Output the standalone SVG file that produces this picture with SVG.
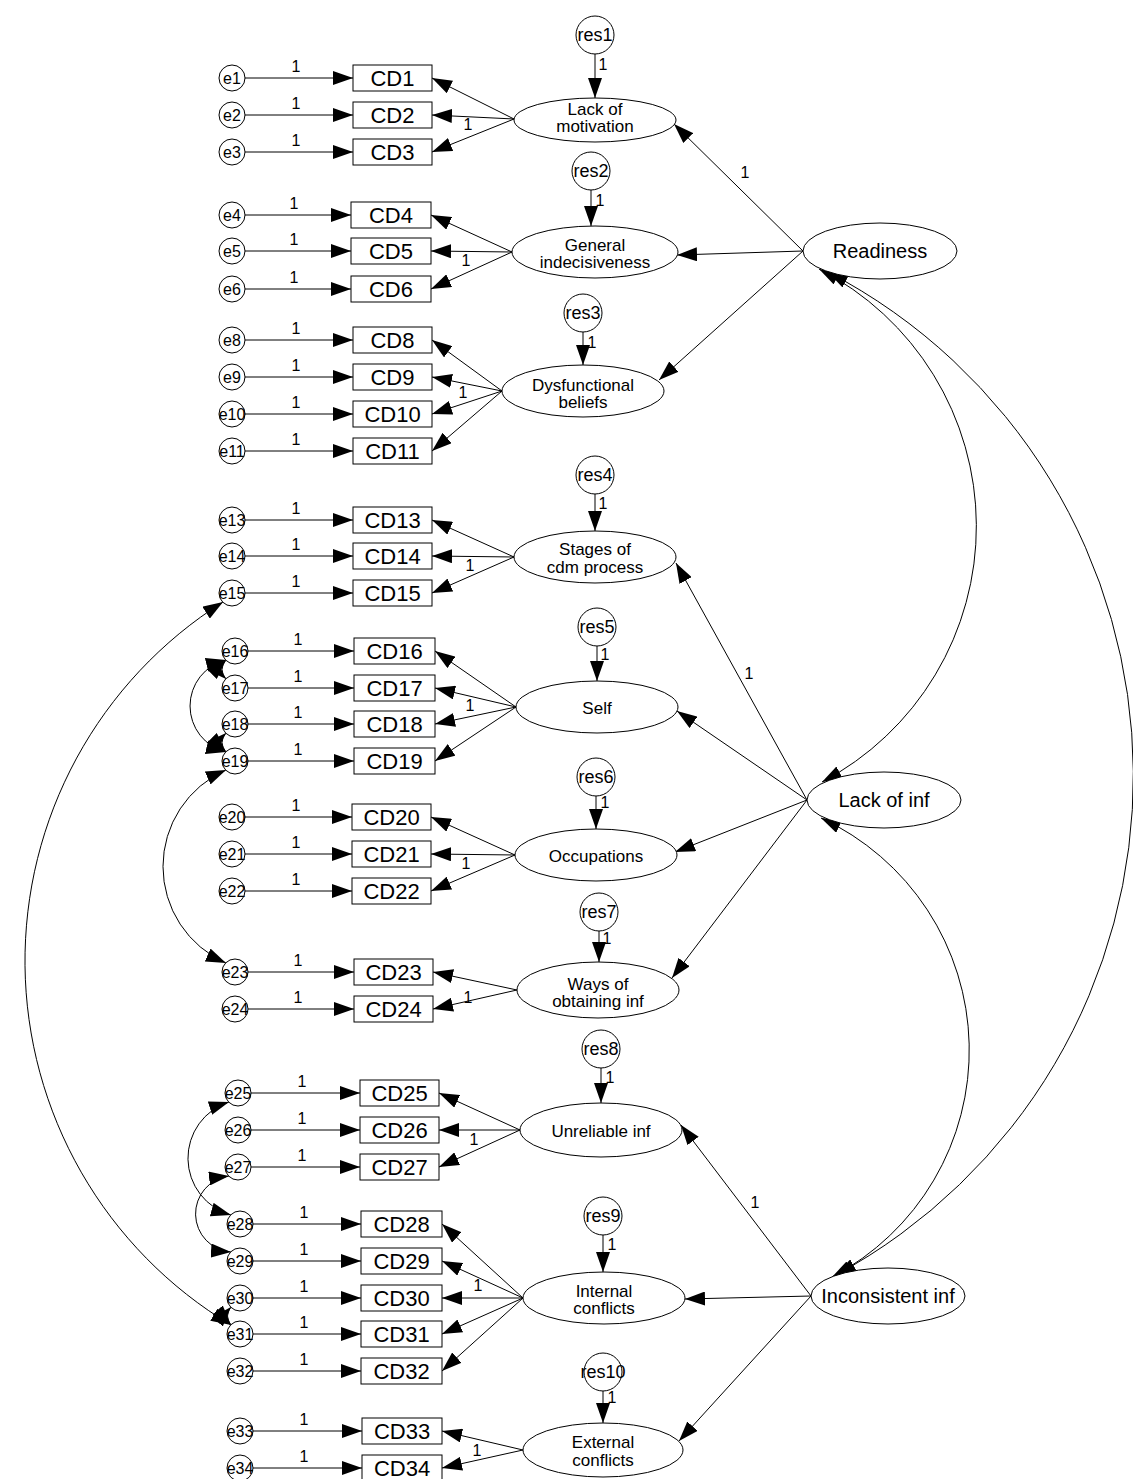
<svg xmlns="http://www.w3.org/2000/svg" width="1133" height="1479" viewBox="0 0 1133 1479">
<style>
text{font-family:"Liberation Sans",Arial,sans-serif;fill:#000}
.cd{font-size:22px;text-anchor:middle}
.el{font-size:16px;text-anchor:middle}
.rl{font-size:18px;text-anchor:middle}
.lt{font-size:17px;text-anchor:middle}
.bt{font-size:20px;text-anchor:middle}
.one{font-size:16px;text-anchor:middle}
rect,circle,ellipse{fill:#fff;stroke:#000;stroke-width:1}
#connectors path,#connectors line{stroke:#000;stroke-width:1;fill:none}
.a{marker-end:url(#ah)}
.b{marker-start:url(#ah);marker-end:url(#ah)}
</style>
<defs>
<marker id="ah" viewBox="0 0 20 14" refX="20" refY="7" markerWidth="20" markerHeight="14" markerUnits="userSpaceOnUse" orient="auto-start-reverse"><path d="M0,0 L20,7 L0,14 z" fill="#000"/></marker>
</defs>
<rect x="0" y="0" width="1133" height="1479" style="fill:#fff;stroke:none"/>
<g id="connectors">
<line class="a" x1="245" y1="78" x2="353" y2="78"/>
<line class="a" x1="245" y1="115" x2="353" y2="115"/>
<line class="a" x1="245" y1="152" x2="353" y2="152"/>
<line class="a" x1="245" y1="215" x2="351" y2="215"/>
<line class="a" x1="245" y1="251" x2="351" y2="251"/>
<line class="a" x1="245" y1="289" x2="351" y2="289"/>
<line class="a" x1="245" y1="340" x2="353" y2="340"/>
<line class="a" x1="245" y1="377" x2="353" y2="377"/>
<line class="a" x1="245" y1="414" x2="353" y2="414"/>
<line class="a" x1="245" y1="451" x2="353" y2="451"/>
<line class="a" x1="245" y1="520" x2="353" y2="520"/>
<line class="a" x1="245" y1="556" x2="353" y2="556"/>
<line class="a" x1="245" y1="593" x2="353" y2="593"/>
<line class="a" x1="248" y1="651" x2="354" y2="651"/>
<line class="a" x1="248" y1="688" x2="354" y2="688"/>
<line class="a" x1="248" y1="724" x2="354" y2="724"/>
<line class="a" x1="248" y1="761" x2="354" y2="761"/>
<line class="a" x1="245" y1="817" x2="352" y2="817"/>
<line class="a" x1="245" y1="854" x2="352" y2="854"/>
<line class="a" x1="245" y1="891" x2="352" y2="891"/>
<line class="a" x1="248" y1="972" x2="354" y2="972"/>
<line class="a" x1="248" y1="1009" x2="354" y2="1009"/>
<line class="a" x1="251" y1="1093" x2="360" y2="1093"/>
<line class="a" x1="251" y1="1130" x2="360" y2="1130"/>
<line class="a" x1="251" y1="1167" x2="360" y2="1167"/>
<line class="a" x1="253" y1="1224" x2="361" y2="1224"/>
<line class="a" x1="253" y1="1261" x2="361" y2="1261"/>
<line class="a" x1="253" y1="1298" x2="361" y2="1298"/>
<line class="a" x1="253" y1="1334" x2="361" y2="1334"/>
<line class="a" x1="253" y1="1371" x2="361" y2="1371"/>
<line class="a" x1="253" y1="1431" x2="362" y2="1431"/>
<line class="a" x1="253" y1="1468" x2="362" y2="1468"/>
<line class="a" x1="514" y1="119" x2="432" y2="78"/>
<line class="a" x1="514" y1="119" x2="432" y2="115"/>
<line class="a" x1="514" y1="119" x2="432" y2="152"/>
<line class="a" x1="512" y1="252" x2="431" y2="215"/>
<line class="a" x1="512" y1="252" x2="431" y2="251"/>
<line class="a" x1="512" y1="252" x2="431" y2="289"/>
<line class="a" x1="502" y1="391" x2="432" y2="340"/>
<line class="a" x1="502" y1="391" x2="432" y2="377"/>
<line class="a" x1="502" y1="391" x2="432" y2="414"/>
<line class="a" x1="502" y1="391" x2="432" y2="451"/>
<line class="a" x1="514" y1="557" x2="432" y2="520"/>
<line class="a" x1="514" y1="557" x2="432" y2="556"/>
<line class="a" x1="514" y1="557" x2="432" y2="593"/>
<line class="a" x1="516" y1="707" x2="435" y2="651"/>
<line class="a" x1="516" y1="707" x2="435" y2="688"/>
<line class="a" x1="516" y1="707" x2="435" y2="724"/>
<line class="a" x1="516" y1="707" x2="435" y2="761"/>
<line class="a" x1="515" y1="855" x2="431" y2="817"/>
<line class="a" x1="515" y1="855" x2="431" y2="854"/>
<line class="a" x1="515" y1="855" x2="431" y2="891"/>
<line class="a" x1="517" y1="990" x2="433" y2="972"/>
<line class="a" x1="517" y1="990" x2="433" y2="1009"/>
<line class="a" x1="520" y1="1130" x2="439" y2="1093"/>
<line class="a" x1="520" y1="1130" x2="439" y2="1130"/>
<line class="a" x1="520" y1="1130" x2="439" y2="1167"/>
<line class="a" x1="523" y1="1298" x2="442" y2="1224"/>
<line class="a" x1="523" y1="1298" x2="442" y2="1261"/>
<line class="a" x1="523" y1="1298" x2="442" y2="1298"/>
<line class="a" x1="523" y1="1298" x2="442" y2="1334"/>
<line class="a" x1="523" y1="1298" x2="442" y2="1371"/>
<line class="a" x1="523" y1="1450" x2="442" y2="1431"/>
<line class="a" x1="523" y1="1450" x2="442" y2="1468"/>
<line class="a" x1="595" y1="54" x2="595" y2="98"/>
<line class="a" x1="591" y1="190" x2="591" y2="226"/>
<line class="a" x1="583" y1="332" x2="583" y2="365"/>
<line class="a" x1="595" y1="494" x2="595" y2="531"/>
<line class="a" x1="597" y1="646" x2="597" y2="681"/>
<line class="a" x1="596" y1="796" x2="596" y2="829"/>
<line class="a" x1="599" y1="931" x2="599" y2="962"/>
<line class="a" x1="601" y1="1068" x2="601" y2="1103"/>
<line class="a" x1="603" y1="1235" x2="603" y2="1272"/>
<line class="a" x1="603" y1="1391" x2="603" y2="1423"/>
<line class="a" x1="803" y1="251" x2="674" y2="124"/>
<line class="a" x1="803" y1="251" x2="677" y2="255"/>
<line class="a" x1="803" y1="251" x2="659" y2="380"/>
<line class="a" x1="807" y1="800" x2="676" y2="563"/>
<line class="a" x1="807" y1="800" x2="677" y2="711"/>
<line class="a" x1="807" y1="800" x2="675" y2="852"/>
<line class="a" x1="807" y1="800" x2="672" y2="978"/>
<line class="a" x1="811" y1="1296" x2="681" y2="1125"/>
<line class="a" x1="811" y1="1296" x2="685" y2="1299"/>
<line class="a" x1="811" y1="1296" x2="679" y2="1441"/>
<path class="b" d="M819,269 A289,289 0 0,1 822,782"/>
<path class="b" d="M828,272 A568,568 0 0,1 836,1275"/>
<path class="b" d="M821,818 A256,256 0 0,1 832,1277"/>
<path class="b" d="M223,602 A424.5,424.5 0 0,0 231,1325"/>
<path class="b" d="M226,770 A105.4,105.4 0 0,0 226,963"/>
<path class="b" d="M226,660 A47.4,47.4 0 0,0 226,752"/>
<path class="b" d="M226,660 A13.4,13.4 0 0,0 226,679"/>
<path class="b" d="M226,733 A13.4,13.4 0 0,0 226,752"/>
<path class="b" d="M231,1307 A13.4,13.4 0 0,0 231,1325"/>
<path class="b" d="M229,1102 A59,59 0 0,0 231,1215"/>
<path class="b" d="M229,1176 A38.2,38.2 0 0,0 231,1252"/>
</g>
<g id="labels">
<text class="one" x="296" y="72">1</text>
<text class="one" x="296" y="109">1</text>
<text class="one" x="296" y="146">1</text>
<text class="one" x="294" y="209">1</text>
<text class="one" x="294" y="245">1</text>
<text class="one" x="294" y="283">1</text>
<text class="one" x="296" y="334">1</text>
<text class="one" x="296" y="371">1</text>
<text class="one" x="296" y="408">1</text>
<text class="one" x="296" y="445">1</text>
<text class="one" x="296" y="514">1</text>
<text class="one" x="296" y="550">1</text>
<text class="one" x="296" y="587">1</text>
<text class="one" x="298" y="645">1</text>
<text class="one" x="298" y="682">1</text>
<text class="one" x="298" y="718">1</text>
<text class="one" x="298" y="755">1</text>
<text class="one" x="296" y="811">1</text>
<text class="one" x="296" y="848">1</text>
<text class="one" x="296" y="885">1</text>
<text class="one" x="298" y="966">1</text>
<text class="one" x="298" y="1003">1</text>
<text class="one" x="302" y="1087">1</text>
<text class="one" x="302" y="1124">1</text>
<text class="one" x="302" y="1161">1</text>
<text class="one" x="304" y="1218">1</text>
<text class="one" x="304" y="1255">1</text>
<text class="one" x="304" y="1292">1</text>
<text class="one" x="304" y="1328">1</text>
<text class="one" x="304" y="1365">1</text>
<text class="one" x="304" y="1425">1</text>
<text class="one" x="304" y="1462">1</text>
<text class="one" x="468" y="130">1</text>
<text class="one" x="466" y="266">1</text>
<text class="one" x="463" y="398">1</text>
<text class="one" x="470" y="571">1</text>
<text class="one" x="470" y="711">1</text>
<text class="one" x="466" y="869">1</text>
<text class="one" x="468" y="1003">1</text>
<text class="one" x="474" y="1145">1</text>
<text class="one" x="478" y="1291">1</text>
<text class="one" x="477" y="1456">1</text>
<text class="one" x="603" y="70">1</text>
<text class="one" x="600" y="206">1</text>
<text class="one" x="592" y="348">1</text>
<text class="one" x="603" y="509">1</text>
<text class="one" x="605" y="660">1</text>
<text class="one" x="605" y="808">1</text>
<text class="one" x="607" y="944">1</text>
<text class="one" x="610" y="1083">1</text>
<text class="one" x="612" y="1250">1</text>
<text class="one" x="612" y="1403">1</text>
<text class="one" x="745" y="178">1</text>
<text class="one" x="749" y="679">1</text>
<text class="one" x="755" y="1208">1</text>
</g>
<g id="e1"><circle cx="232" cy="78" r="13"/><text class="el" x="232" y="84">e1</text></g>
<g id="e2"><circle cx="232" cy="115" r="13"/><text class="el" x="232" y="121">e2</text></g>
<g id="e3"><circle cx="232" cy="152" r="13"/><text class="el" x="232" y="158">e3</text></g>
<g id="e4"><circle cx="232" cy="215" r="13"/><text class="el" x="232" y="221">e4</text></g>
<g id="e5"><circle cx="232" cy="251" r="13"/><text class="el" x="232" y="257">e5</text></g>
<g id="e6"><circle cx="232" cy="289" r="13"/><text class="el" x="232" y="295">e6</text></g>
<g id="e8"><circle cx="232" cy="340" r="13"/><text class="el" x="232" y="346">e8</text></g>
<g id="e9"><circle cx="232" cy="377" r="13"/><text class="el" x="232" y="383">e9</text></g>
<g id="e10"><circle cx="232" cy="414" r="13"/><text class="el" x="232" y="420">e10</text></g>
<g id="e11"><circle cx="232" cy="451" r="13"/><text class="el" x="232" y="457">e11</text></g>
<g id="e13"><circle cx="232" cy="520" r="13"/><text class="el" x="232" y="526">e13</text></g>
<g id="e14"><circle cx="232" cy="556" r="13"/><text class="el" x="232" y="562">e14</text></g>
<g id="e15"><circle cx="232" cy="593" r="13"/><text class="el" x="232" y="599">e15</text></g>
<g id="e16"><circle cx="235" cy="651" r="13"/><text class="el" x="235" y="657">e16</text></g>
<g id="e17"><circle cx="235" cy="688" r="13"/><text class="el" x="235" y="694">e17</text></g>
<g id="e18"><circle cx="235" cy="724" r="13"/><text class="el" x="235" y="730">e18</text></g>
<g id="e19"><circle cx="235" cy="761" r="13"/><text class="el" x="235" y="767">e19</text></g>
<g id="e20"><circle cx="232" cy="817" r="13"/><text class="el" x="232" y="823">e20</text></g>
<g id="e21"><circle cx="232" cy="854" r="13"/><text class="el" x="232" y="860">e21</text></g>
<g id="e22"><circle cx="232" cy="891" r="13"/><text class="el" x="232" y="897">e22</text></g>
<g id="e23"><circle cx="235" cy="972" r="13"/><text class="el" x="235" y="978">e23</text></g>
<g id="e24"><circle cx="235" cy="1009" r="13"/><text class="el" x="235" y="1015">e24</text></g>
<g id="e25"><circle cx="238" cy="1093" r="13"/><text class="el" x="238" y="1099">e25</text></g>
<g id="e26"><circle cx="238" cy="1130" r="13"/><text class="el" x="238" y="1136">e26</text></g>
<g id="e27"><circle cx="238" cy="1167" r="13"/><text class="el" x="238" y="1173">e27</text></g>
<g id="e28"><circle cx="240" cy="1224" r="13"/><text class="el" x="240" y="1230">e28</text></g>
<g id="e29"><circle cx="240" cy="1261" r="13"/><text class="el" x="240" y="1267">e29</text></g>
<g id="e30"><circle cx="240" cy="1298" r="13"/><text class="el" x="240" y="1304">e30</text></g>
<g id="e31"><circle cx="240" cy="1334" r="13"/><text class="el" x="240" y="1340">e31</text></g>
<g id="e32"><circle cx="240" cy="1371" r="13"/><text class="el" x="240" y="1377">e32</text></g>
<g id="e33"><circle cx="240" cy="1431" r="13"/><text class="el" x="240" y="1437">e33</text></g>
<g id="e34"><circle cx="240" cy="1468" r="13"/><text class="el" x="240" y="1474">e34</text></g>
<g id="CD1"><rect x="353" y="65" width="79" height="26"/><text class="cd" x="392.5" y="86">CD1</text></g>
<g id="CD2"><rect x="353" y="102" width="79" height="26"/><text class="cd" x="392.5" y="123">CD2</text></g>
<g id="CD3"><rect x="353" y="139" width="79" height="26"/><text class="cd" x="392.5" y="160">CD3</text></g>
<g id="CD4"><rect x="351" y="202" width="80" height="26"/><text class="cd" x="391" y="223">CD4</text></g>
<g id="CD5"><rect x="351" y="238" width="80" height="26"/><text class="cd" x="391" y="259">CD5</text></g>
<g id="CD6"><rect x="351" y="276" width="80" height="26"/><text class="cd" x="391" y="297">CD6</text></g>
<g id="CD8"><rect x="353" y="327" width="79" height="26"/><text class="cd" x="392.5" y="348">CD8</text></g>
<g id="CD9"><rect x="353" y="364" width="79" height="26"/><text class="cd" x="392.5" y="385">CD9</text></g>
<g id="CD10"><rect x="353" y="401" width="79" height="26"/><text class="cd" x="392.5" y="422">CD10</text></g>
<g id="CD11"><rect x="353" y="438" width="79" height="26"/><text class="cd" x="392.5" y="459">CD11</text></g>
<g id="CD13"><rect x="353" y="507" width="79" height="26"/><text class="cd" x="392.5" y="528">CD13</text></g>
<g id="CD14"><rect x="353" y="543" width="79" height="26"/><text class="cd" x="392.5" y="564">CD14</text></g>
<g id="CD15"><rect x="353" y="580" width="79" height="26"/><text class="cd" x="392.5" y="601">CD15</text></g>
<g id="CD16"><rect x="354" y="638" width="81" height="26"/><text class="cd" x="394.5" y="659">CD16</text></g>
<g id="CD17"><rect x="354" y="675" width="81" height="26"/><text class="cd" x="394.5" y="696">CD17</text></g>
<g id="CD18"><rect x="354" y="711" width="81" height="26"/><text class="cd" x="394.5" y="732">CD18</text></g>
<g id="CD19"><rect x="354" y="748" width="81" height="26"/><text class="cd" x="394.5" y="769">CD19</text></g>
<g id="CD20"><rect x="352" y="804" width="79" height="26"/><text class="cd" x="391.5" y="825">CD20</text></g>
<g id="CD21"><rect x="352" y="841" width="79" height="26"/><text class="cd" x="391.5" y="862">CD21</text></g>
<g id="CD22"><rect x="352" y="878" width="79" height="26"/><text class="cd" x="391.5" y="899">CD22</text></g>
<g id="CD23"><rect x="354" y="959" width="79" height="26"/><text class="cd" x="393.5" y="980">CD23</text></g>
<g id="CD24"><rect x="354" y="996" width="79" height="26"/><text class="cd" x="393.5" y="1017">CD24</text></g>
<g id="CD25"><rect x="360" y="1080" width="79" height="26"/><text class="cd" x="399.5" y="1101">CD25</text></g>
<g id="CD26"><rect x="360" y="1117" width="79" height="26"/><text class="cd" x="399.5" y="1138">CD26</text></g>
<g id="CD27"><rect x="360" y="1154" width="79" height="26"/><text class="cd" x="399.5" y="1175">CD27</text></g>
<g id="CD28"><rect x="361" y="1211" width="81" height="26"/><text class="cd" x="401.5" y="1232">CD28</text></g>
<g id="CD29"><rect x="361" y="1248" width="81" height="26"/><text class="cd" x="401.5" y="1269">CD29</text></g>
<g id="CD30"><rect x="361" y="1285" width="81" height="26"/><text class="cd" x="401.5" y="1306">CD30</text></g>
<g id="CD31"><rect x="361" y="1321" width="81" height="26"/><text class="cd" x="401.5" y="1342">CD31</text></g>
<g id="CD32"><rect x="361" y="1358" width="81" height="26"/><text class="cd" x="401.5" y="1379">CD32</text></g>
<g id="CD33"><rect x="362" y="1418" width="80" height="26"/><text class="cd" x="402" y="1439">CD33</text></g>
<g id="CD34"><rect x="362" y="1455" width="80" height="26"/><text class="cd" x="402" y="1476">CD34</text></g>
<g id="res1"><circle cx="595" cy="35" r="19"/><text class="rl" x="595" y="41">res1</text></g>
<g id="res2"><circle cx="591" cy="171" r="19"/><text class="rl" x="591" y="177">res2</text></g>
<g id="res3"><circle cx="583" cy="313" r="19"/><text class="rl" x="583" y="319">res3</text></g>
<g id="res4"><circle cx="595" cy="475" r="19"/><text class="rl" x="595" y="481">res4</text></g>
<g id="res5"><circle cx="597" cy="627" r="19"/><text class="rl" x="597" y="633">res5</text></g>
<g id="res6"><circle cx="596" cy="777" r="19"/><text class="rl" x="596" y="783">res6</text></g>
<g id="res7"><circle cx="599" cy="912" r="19"/><text class="rl" x="599" y="918">res7</text></g>
<g id="res8"><circle cx="601" cy="1049" r="19"/><text class="rl" x="601" y="1055">res8</text></g>
<g id="res9"><circle cx="603" cy="1216" r="19"/><text class="rl" x="603" y="1222">res9</text></g>
<g id="res10"><circle cx="603" cy="1372" r="19"/><text class="rl" x="603" y="1378">res10</text></g>
<g id="lack-of-motivation"><ellipse cx="595" cy="120" rx="81" ry="22"/><text class="lt" x="595" y="115">Lack of</text><text class="lt" x="595" y="132">motivation</text></g>
<g id="general-indecisiveness"><ellipse cx="595" cy="252" rx="83" ry="26"/><text class="lt" x="595" y="251">General</text><text class="lt" x="595" y="268">indecisiveness</text></g>
<g id="dysfunctional-beliefs"><ellipse cx="583" cy="391" rx="81" ry="26"/><text class="lt" x="583" y="391">Dysfunctional</text><text class="lt" x="583" y="408">beliefs</text></g>
<g id="stages"><ellipse cx="595" cy="557" rx="81" ry="26"/><text class="lt" x="595" y="555">Stages of</text><text class="lt" x="595" y="573">cdm process</text></g>
<g id="self"><ellipse cx="597" cy="707" rx="81" ry="26"/><text class="lt" x="597" y="714">Self</text></g>
<g id="occupations"><ellipse cx="596" cy="855" rx="81" ry="26"/><text class="lt" x="596" y="862">Occupations</text></g>
<g id="ways"><ellipse cx="598" cy="990" rx="81" ry="28"/><text class="lt" x="598" y="990">Ways of</text><text class="lt" x="598" y="1007">obtaining inf</text></g>
<g id="unreliable"><ellipse cx="601" cy="1130" rx="81" ry="27"/><text class="lt" x="601" y="1137">Unreliable inf</text></g>
<g id="internal"><ellipse cx="604" cy="1298" rx="81" ry="26"/><text class="lt" x="604" y="1297">Internal</text><text class="lt" x="604" y="1314">conflicts</text></g>
<g id="external"><ellipse cx="603" cy="1450" rx="80" ry="27"/><text class="lt" x="603" y="1448">External</text><text class="lt" x="603" y="1466">conflicts</text></g>
<g id="readiness"><ellipse cx="880" cy="251" rx="77" ry="28"/><text class="bt" x="880" y="258">Readiness</text></g>
<g id="lack-of-inf"><ellipse cx="884" cy="800" rx="77" ry="28"/><text class="bt" x="884" y="807">Lack of inf</text></g>
<g id="inconsistent-inf"><ellipse cx="888" cy="1296" rx="77" ry="28"/><text class="bt" x="888" y="1303">Inconsistent inf</text></g>
</svg>
